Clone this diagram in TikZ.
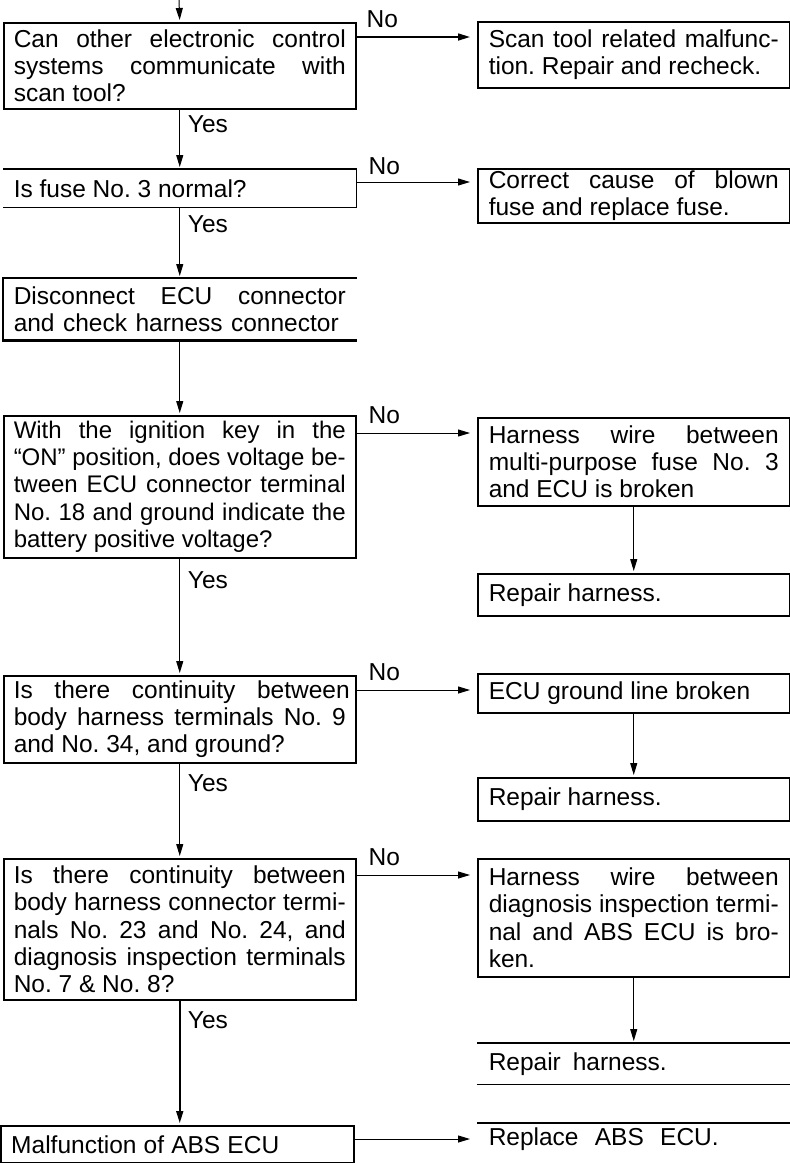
\documentclass[tikz,border=0pt]{standalone}
\usepackage{fontspec}
\setmainfont{Liberation Sans}
\usetikzlibrary{arrows.meta}
\frenchspacing
\newcommand\jL[1]{\makebox[332pt][s]{\spaceskip=0pt\xspaceskip=0pt #1}}
\newcommand\jR[1]{\makebox[290pt][s]{\spaceskip=0pt\xspaceskip=0pt #1}}
\newcommand\jW[2]{\makebox[#1][s]{\spaceskip=0pt\xspaceskip=0pt #2}}
\newcommand\fs{\fontsize{24.5}{27.3}\selectfont}
\tikzset{
  box/.style={draw, line width=1.5pt, inner ysep=0pt, anchor=north west, font=\fs, align=flush left},
  lbox/.style={box, text width=332pt, inner xsep=10pt, minimum width=352pt},
  rbox/.style={box, text width=290pt, inner xsep=11pt, minimum width=312pt},
  edge/.style={line width=1.5pt},
  conn/.style={line width=1pt, -{Triangle[length=12pt,width=7pt]}, shorten >=2pt},
  hconn/.style={conn, shorten >=7pt},
  lab/.style={font=\fs, inner sep=0pt}
}
\begin{document}
\begin{tikzpicture}[x=1pt,y=-1pt]
\useasboundingbox (0,0) rectangle (790,1163);
\clip (0,0) rectangle (790,1163);
% left column
\node[lbox, minimum height=86pt] (B1) at (3,22)
  {\jL{Can other electronic control}\\\jL{systems communicate with}\\\jW{112pt}{scan tool?}};
\node[lbox, draw=none, minimum height=37pt] (B2) at (3,169) {Is fuse No. 3 normal?};
\draw[edge] (B2.north west) -- (B2.north east) -- (B2.south east) -- (B2.south west);
\node[lbox, draw=none, minimum height=61pt] (B3) at (3,278)
  {\jL{Disconnect ECU connector}\\\jW{325pt}{and check harness connector}};
\draw[line width=2.2pt] (B3.north east) -- (B3.north west) -- (B3.south west) -- (B3.south east);
\node[lbox, minimum height=142pt, font=\fontsize{24}{27.3}\selectfont] (B4) at (3,415)
  {\jL{With the ignition key in the}\\\jL{“ON” position, does voltage be-}\\\jL{tween ECU connector terminal}\\\jL{No. 18 and ground indicate the}\\battery positive voltage?};
\node[lbox, minimum height=87pt] (B5) at (3,675)
  {\jW{336pt}{Is there continuity between}\\\jL{body harness terminals No. 9}\\and No. 34, and ground?};
\node[lbox, minimum height=141pt] (B6) at (3,858)
  {\jL{Is there continuity between}\\\jL{body harness connector termi-}\\\jL{nals No. 23 and No. 24, and}\\\jL{diagnosis inspection terminals}\\No. 7 \& No. 8?};
\node[lbox, minimum height=37pt, minimum width=353pt] (B7) at (0,1125)
  {\jW{268pt}{Malfunction of ABS ECU}};
% right column
\node[rbox, minimum height=66pt] (R1) at (477,21)
  {\jR{Scan tool related malfunc-}\\tion. Repair and recheck.};
\node[rbox, minimum height=54pt] (R2) at (477,168)
  {\jR{Correct cause of blown}\\fuse and replace fuse.};
\node[rbox, minimum height=88pt] (R3) at (477,417)
  {\jR{Harness wire between}\\\jR{multi-purpose fuse No. 3}\\and ECU is broken};
\node[rbox, minimum height=42pt] (R3b) at (477,573) {Repair harness.};
\node[rbox, minimum height=39pt] (R4) at (477,673) {ECU ground line broken};
\node[rbox, minimum height=43pt] (R4b) at (477,777) {Repair harness.};
\node[rbox, minimum height=118pt] (R5) at (477,858)
  {\jR{Harness wire between}\\\jR{diagnosis inspection termi-}\\\jR{nal and ABS ECU is bro-}\\ken.};
\node[rbox, draw=none, minimum height=40pt, minimum width=311pt] (R5b) at (477,1043) {\jW{178pt}{Repair harness.}};
\draw[edge] (R5b.north west) -- (R5b.north east) -- (R5b.south east) -- (R5b.south west);
\node[rbox, draw=none, minimum height=30pt, minimum width=311pt] (R6) at (477,1123) {\jW{230pt}{Replace ABS ECU.}};
\draw[edge] (R6.north west) -- (R6.north east) -- ++(0,60);
% vertical connectors
\coordinate (top) at (179,0);
\draw[conn] (top) -- (B1.north);
\draw[conn] (B1.south) -- (B2.north);
\draw[conn] (B2.south) -- (B3.north);
\draw[conn] (B3.south) -- (B4.north);
\draw[conn] (B4.south) -- (B5.north);
\draw[conn] (B5.south) -- (B6.north);
\draw[conn, line width=1.6pt] (B6.south) -- (B6.south |- B7.north);
\draw[conn] (R3.south) -- (R3b.north);
\draw[conn] (R4.south) -- (R4b.north);
\draw[conn] (R5.south) -- (R5b.north);
% Yes labels
\node[lab, anchor=base west] (y1) at ([xshift=8pt,yshift=-23pt]B1.south) {Yes};
\node[lab, anchor=base west] (y2) at ([xshift=8pt,yshift=-25pt]B2.south) {Yes};
\node[lab, anchor=base west] (y3) at ([xshift=8pt,yshift=-30pt]B4.south) {Yes};
\node[lab, anchor=base west] (y4) at ([xshift=8pt,yshift=-28pt]B5.south) {Yes};
\node[lab, anchor=base west] (y5) at ([xshift=8pt,yshift=-28pt]B6.south) {Yes};
% horizontal connectors
\path ([yshift=-15pt]B1.north east) coordinate (h1);
\draw[hconn, line width=1.6pt] (h1) -- (h1 -| R1.west);
\node[lab, anchor=base west] (n1) at ([xshift=10pt,yshift=10pt]h1) {No};
\path ([yshift=-13pt]B2.north east) coordinate (h2);
\draw[hconn] (h2) -- (h2 -| R2.west);
\node[lab, anchor=base west] (n2) at ([xshift=12pt,yshift=8pt]h2) {No};
\path ([yshift=-18pt]B4.north east) coordinate (h3);
\draw[hconn] (h3) -- (h3 -| R3.west);
\node[lab, anchor=base west] (n3) at ([xshift=12pt,yshift=10pt]h3) {No};
\path ([yshift=-15pt]B5.north east) coordinate (h4);
\draw[hconn] (h4) -- (h4 -| R4.west);
\node[lab, anchor=base west] (n4) at ([xshift=12pt,yshift=10pt]h4) {No};
\path ([yshift=-17pt]B6.north east) coordinate (h5);
\draw[hconn] (h5) -- (h5 -| R5.west);
\node[lab, anchor=base west] (n5) at ([xshift=12pt,yshift=10pt]h5) {No};
\path ([yshift=-14pt]B7.north east) coordinate (h6);
\draw[hconn] (h6) -- (h6 -| R6.west);
\end{tikzpicture}
\end{document}
